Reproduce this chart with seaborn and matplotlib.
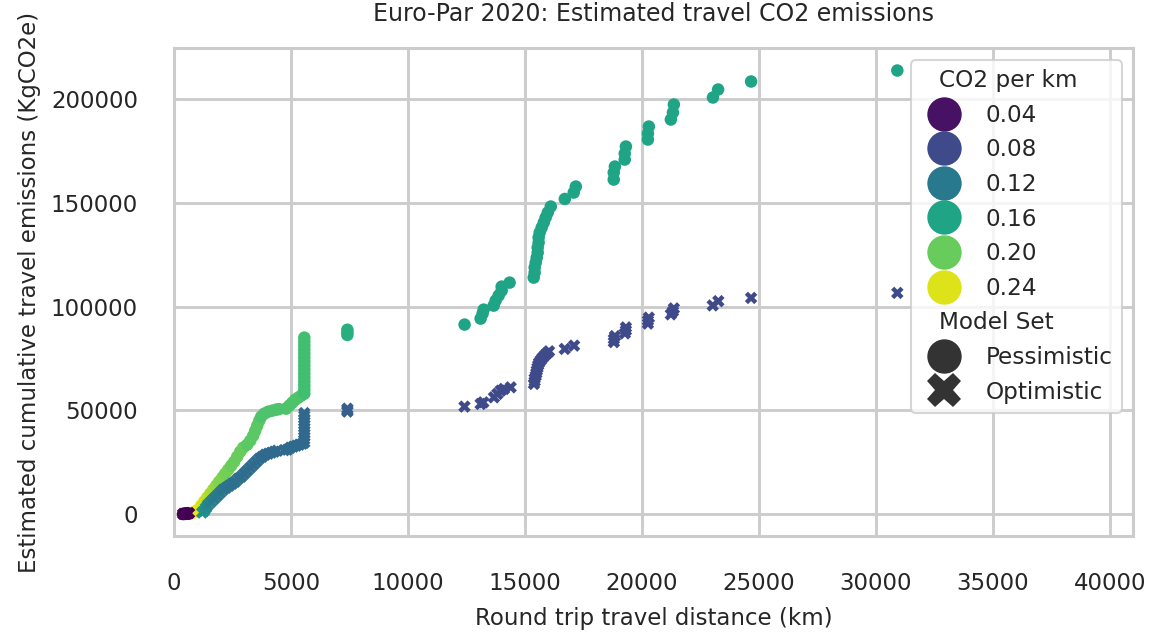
import pandas as pd
import matplotlib
matplotlib.use("Agg")
import matplotlib.pyplot as plt
from matplotlib.offsetbox import HPacker, TextArea
import seaborn as sns

# --- values ---
# Pessimistic model set
pess_km = [385, 430, 470, 515, 560, 600, 640,
           800, 860, 920, 985,
           1030, 1156, 1284, 1413, 1541, 1670, 1798, 1926, 2055, 2183,
           2312, 2440, 2569, 2697, 2825, 2954, 3125, 3254, 3382, 3468,
           3553, 3639, 3724, 3853, 4024, 4195, 4367, 4480, 4780, 4923,
           5052, 5180, 5309, 5437,
           5565, 5565, 5565, 5565, 5565, 5565, 5565, 5565, 5565, 5565,
           5565, 5565, 5565, 5565, 5565,
           7406, 7406, 7406,
           12415, 13100, 13185, 13230, 13656, 13742, 13870, 14000, 14000, 14340,
           15370, 15410, 15410, 15455, 15500, 15540, 15540, 15580, 15580, 15625,
           15710, 15800, 15880, 15970, 16100,
           16700, 17080, 17170, 18790, 18790, 18840, 19260, 19260, 19310,
           20250, 20250, 20290, 21230, 21320, 21360, 23030, 23250, 24660, 30910]
pess_kg = [15, 50, 100, 160, 230, 310, 400,
           600, 900, 1300, 1750,
           2080, 4010, 5940, 7870, 9800, 11730, 13660, 15590, 17520, 19450,
           21380, 23310, 25240, 27660, 30070, 32000, 33450, 35380, 37800, 40210,
           42620, 45040, 46970, 48420, 49380, 49860, 50350, 50600, 50830, 52280,
           53730, 55170, 56140, 57100,
           58070, 60000, 61930, 63860, 65800, 67730, 69660, 71590, 73520, 75450,
           77380, 79310, 81250, 83180, 85110,
           86400, 87650, 88900,
           91400, 94270, 96680, 98610, 100540, 102960, 105370, 107780, 109710, 111640,
           114060, 116480, 118890, 121300, 123720, 126130, 128540, 130960, 133370, 135780,
           138200, 140610, 143030, 145440, 148340,
           152000, 155090, 157990, 161370, 164750, 167640, 171020, 173920, 177300,
           180670, 183570, 186950, 190330, 193700, 197570, 200950, 204810, 208670, 213980]
pess_co2 = [0.03, 0.03, 0.03, 0.03, 0.03, 0.03, 0.03,
            0.252, 0.252, 0.25, 0.248,
            0.245, 0.24, 0.235, 0.23, 0.225, 0.22, 0.215, 0.21, 0.21, 0.205,
            0.205, 0.2, 0.2, 0.2, 0.2, 0.2, 0.195, 0.195, 0.195, 0.195,
            0.195, 0.195, 0.19, 0.19, 0.19, 0.19, 0.19, 0.19, 0.19, 0.19,
            0.19, 0.19, 0.19, 0.19,
            0.185, 0.185, 0.185, 0.185, 0.185, 0.185, 0.185, 0.185, 0.185, 0.185,
            0.185, 0.185, 0.185, 0.185, 0.185,
            0.17, 0.17, 0.17,
            0.16, 0.16, 0.16, 0.16, 0.16, 0.16, 0.16, 0.16, 0.16, 0.16,
            0.16, 0.16, 0.16, 0.16, 0.16, 0.16, 0.16, 0.16, 0.16, 0.16,
            0.16, 0.16, 0.16, 0.16, 0.16,
            0.16, 0.16, 0.16, 0.16, 0.16, 0.16, 0.16, 0.16, 0.16,
            0.16, 0.16, 0.16, 0.16, 0.16, 0.16, 0.16, 0.16, 0.16, 0.16]

# Optimistic model set
opt_km = [385, 430, 470, 515, 560, 600, 640,
          1200, 1290, 1370, 1456, 1584, 1712, 1841, 1969, 2098, 2226,
          2355, 2483, 2611, 2740, 2868, 2997, 3125, 3254, 3382, 3510,
          3639, 3767, 3896, 4024, 4153, 4281, 4409, 4709, 4838, 4966,
          5094, 5223, 5351, 5480,
          5565, 5565, 5565, 5565, 5565, 5565, 5565, 5565, 5565, 5565, 5565,
          7406, 7406, 7406,
          12410, 13100, 13215, 13670, 13815, 13955, 14100, 14385,
          15380, 15410, 15410, 15455, 15480, 15500, 15530, 15560, 15600, 15670,
          15750, 15850, 15950, 16025,
          16695, 17095, 18795, 18795, 18840, 19265, 19310, 19310,
          20250, 20250, 20290, 21230, 21320, 21360, 23020, 23260, 24660, 30910]
opt_kg = [15, 50, 100, 160, 230, 310, 400,
          700, 1600, 3040, 4490, 5940, 7390, 8830, 10280, 11730, 12700,
          13660, 14620, 15590, 17040, 18000, 19450, 20900, 22350, 23800, 25240,
          26690, 27660, 28620, 29110, 29590, 30070, 30560, 30800, 31040, 32000,
          32490, 32970, 33450, 33930,
          34420, 35870, 37310, 38760, 40210, 41660, 43100, 44550, 46000, 47450, 48700,
          49410, 50120, 50830,
          51820, 53100, 53870, 56280, 57920, 59510, 60340, 61110,
          62750, 64000, 65300, 66600, 67900, 69170, 70500, 71800, 73000, 74200,
          75400, 76600, 77700, 78500,
          79650, 81240, 82930, 84380, 85830, 87130, 88580, 90030,
          91860, 93310, 94750, 96310, 97760, 99210, 100630, 102700, 104260, 106680]
opt_co2 = [0.03, 0.03, 0.03, 0.03, 0.03, 0.03, 0.03,
           0.145, 0.14, 0.135, 0.13, 0.125, 0.12, 0.12, 0.118, 0.115, 0.115,
           0.112, 0.112, 0.11, 0.11, 0.11, 0.108, 0.108, 0.108, 0.106, 0.106,
           0.106, 0.105, 0.105, 0.105, 0.105, 0.105, 0.105, 0.105, 0.105, 0.105,
           0.105, 0.105, 0.105, 0.105,
           0.104, 0.104, 0.104, 0.104, 0.104, 0.104, 0.104, 0.104, 0.104, 0.104, 0.104,
           0.096, 0.096, 0.096,
           0.08, 0.08, 0.08, 0.08, 0.08, 0.08, 0.08, 0.08,
           0.08, 0.08, 0.08, 0.08, 0.08, 0.08, 0.08, 0.08, 0.08, 0.08,
           0.08, 0.08, 0.08, 0.08,
           0.08, 0.08, 0.08, 0.08, 0.08, 0.08, 0.08, 0.08,
           0.08, 0.08, 0.08, 0.08, 0.08, 0.08, 0.08, 0.08, 0.08, 0.08]

x_ticks = [0, 5000, 10000, 15000, 20000, 25000, 30000, 35000, 40000]

xcol = "Round trip travel distance (km)"
ycol = "Estimated cumulative travel emissions (KgCO2e)"

pess = pd.DataFrame({xcol: pess_km, ycol: pess_kg, "CO2 per km": pess_co2})
pess["Model Set"] = "Pessimistic"
opt = pd.DataFrame({xcol: opt_km, ycol: opt_kg, "CO2 per km": opt_co2})
opt["Model Set"] = "Optimistic"
data = pd.concat([pess, opt], ignore_index=True)

### --- plot ----
sns.set_theme(context="talk", style="whitegrid")
plt.rcParams.update({
    "font.size": 16.6,
    "axes.labelsize": 16.5,
    "axes.titlesize": 17,
    "xtick.labelsize": 16.5,
    "ytick.labelsize": 16.5,
    "legend.fontsize": 16.7,
    "legend.title_fontsize": 16.7,
    "legend.loc": "upper right",
    "legend.markerscale": 2.75,
    "grid.linewidth": 2.1,
    "axes.linewidth": 2.2,
})

fig = plt.figure(figsize=(11.53, 6.36), dpi=100)
ax = fig.add_axes([0.151, 0.157, 0.832, 0.767])

sns.scatterplot(data=data, x=xcol, y=ycol, hue="CO2 per km", style="Model Set",
                palette="viridis", linewidth=0, ax=ax)

ax.set_xlim(0, 41000)
ax.set_xticks(x_ticks)
ax.tick_params(axis="x", pad=16.5)
ax.tick_params(axis="y", pad=17)
ax.xaxis.labelpad = 9
ax.yaxis.labelpad = 7
ax.set_title("Euro-Par 2020: Estimated travel CO2 emissions", pad=20)

# subtitles sit left, like section headers
leg = ax.get_legend()
for hp in leg.findobj(HPacker):
    kids = hp.get_children()
    if len(kids) == 2 and isinstance(kids[1], TextArea):
        if kids[1].get_text() in ("CO2 per km", "Model Set"):
            kids[0].set_width(0)

fig.savefig("out.png", dpi=100)
